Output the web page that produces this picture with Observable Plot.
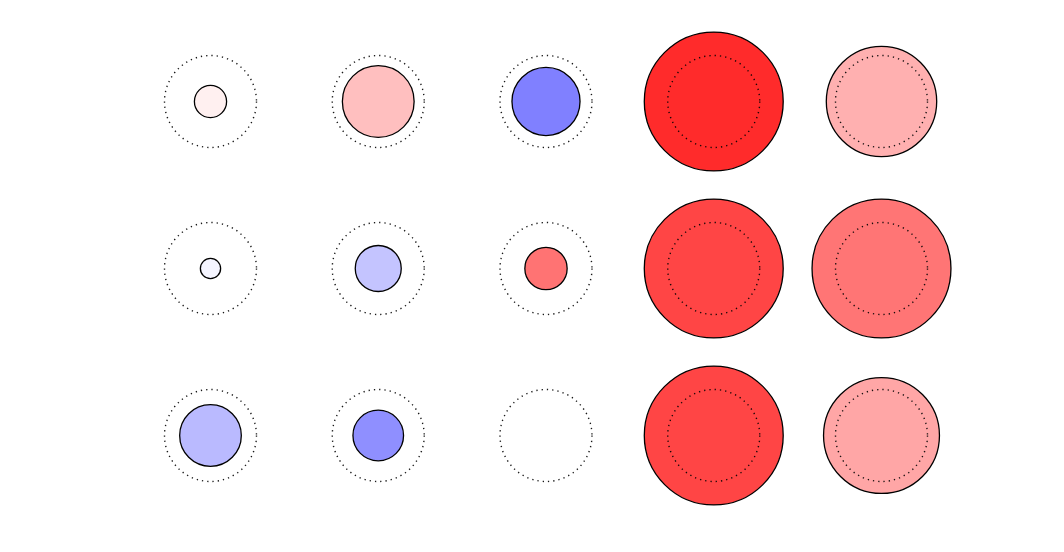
<!DOCTYPE html>
<html>
<head>
<meta charset="utf-8">
<script src="https://cdn.jsdelivr.net/npm/d3@7"></script>
<script src="https://cdn.jsdelivr.net/npm/@observablehq/plot@0.6"></script>
<style>
  html, body { margin: 0; padding: 0; background: #fff; }
  #chart { width: 1064px; height: 552px; }
</style>
</head>
<body>
<div id="chart"></div>
<script>
// Grid categories
const columns = ["C1", "C2", "C3", "C4", "C5"];
const rows = ["R1", "R2", "R3"];

// Signed value per cell (drives colour: blue negative, red positive)
const colorValues = [
  [0.06, 0.25, -0.50, 0.83, 0.31],
  [-0.04, -0.23, 0.55, 0.73, 0.54],
  [-0.27, -0.44, 0.00, 0.73, 0.35]
];

// Magnitude per cell (drives radius; 1 = reference dotted circle)
const sizeValues = [
  [0.35, 0.78, 0.74, 1.51, 1.20],
  [0.22, 0.50, 0.46, 1.51, 1.51],
  [0.67, 0.55, 0.00, 1.51, 1.26]
];

const cells = [];
rows.forEach((r, i) => columns.forEach((c, j) => {
  cells.push({row: r, col: c, value: colorValues[i][j], size: sizeValues[i][j]});
}));

const chart = Plot.plot({
  width: 1064,
  height: 552,
  margin: 0,
  x: {type: "point", domain: columns, range: [210, 881], padding: 0, round: false, axis: null},
  y: {type: "point", domain: rows, range: [101, 435], padding: 0, round: false, axis: null},
  r: {type: "linear", domain: [0, 1], range: [0, 46]},
  color: {type: "linear", domain: [-1, 0, 1], range: ["#0000ff", "#ffffff", "#ff0000"], interpolate: "rgb"},
  marks: [
    Plot.dot(cells, {x: "col", y: "row", r: "size", fill: "value", stroke: "black", strokeWidth: 1.3}),
    Plot.dot(cells, {x: "col", y: "row", r: 46, stroke: "black", strokeWidth: 1.4, strokeDasharray: "1.3,4", strokeOpacity: 0.9})
  ]
});
document.getElementById("chart").appendChild(chart);
</script>
</body>
</html>
